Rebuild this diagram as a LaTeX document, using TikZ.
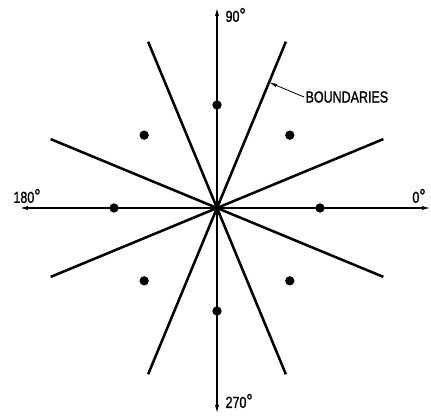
\documentclass[tikz,border=0pt]{standalone}
\usepackage{fontspec}
\newfontfamily\cadfont[FakeStretch=0.78,FakeBold=1.2]{Liberation Sans}
\newcommand{\dg}{{\fontsize{15pt}{15pt}\selectfont°}}
\usetikzlibrary{positioning,arrows.meta,calc}

\begin{document}
\begin{tikzpicture}[
    x=0.75pt, y=0.75pt,
    font=\cadfont\fontsize{12pt}{14pt}\selectfont,
    axis/.style={line width=0.8pt, {Latex[length=6pt,width=3.2pt]}-{Latex[length=6pt,width=3.2pt]}},
    boundary/.style={line width=1.9pt},
    pt/.style={circle, fill=black, inner sep=0pt, minimum size=7pt},
    lbl/.style={inner sep=1pt},
    arrow/.style={line width=0.6pt, -{Latex[length=6pt,width=2.6pt]}}
]
\useasboundingbox (-217,-208) rectangle (214,208);

% ============================================================
% OSIE
% ============================================================
\coordinate (o) at (0,0);
\coordinate (east)  at (213,0);
\coordinate (west)  at (-197,0);
\coordinate (north) at (0,200);
\coordinate (south) at (0,-205);

\draw[axis] (west) -- (east);
\draw[axis] (south) -- (north);

\node[lbl, anchor=west]  (l90)  at (7,193)    {90\dg};
\node[lbl]               (l0)   at (202,12)   {0\dg};
\node[lbl]               (l180) at (-190,12)  {180\dg};
\node[lbl, anchor=west]  (l270) at (7,-193)   {270\dg};

% ============================================================
% GRANICE
% ============================================================
\foreach \a in {22.5,67.5,112.5,157.5} {
    \draw[boundary] (\a:180) -- (\a+180:180);
}

% ============================================================
% PUNKTY
% ============================================================
\foreach \a/\n in {0/p0,45/p45,90/p90,135/p135,180/p180,225/p225,270/p270,315/p315} {
    \node[pt] (\n) at (\a:103) {};
}

% ============================================================
% PODPIS
% ============================================================
\coordinate (bnd) at (67.5:136);
\node[lbl, anchor=west] (btxt) at (87,111) {BOUNDARIES};
\draw[arrow] (btxt.west) -- (bnd);

\end{tikzpicture}
\end{document}
